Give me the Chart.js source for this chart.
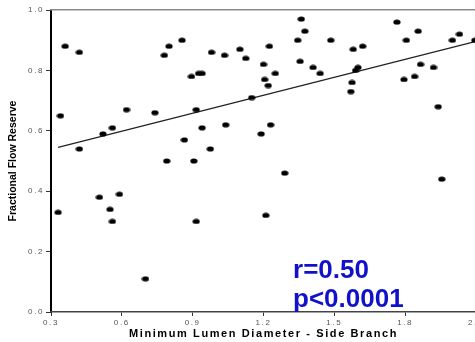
<!DOCTYPE html>
<html><head><meta charset="utf-8">
<script src="https://cdn.jsdelivr.net/npm/chart.js@4/dist/chart.umd.min.js"></script>
<style>
html,body{margin:0;padding:0;overflow:hidden;background:#fff;width:475px;height:342px}
#wrap{position:absolute;left:0;top:0;width:490px;height:342px}
</style>
</head><body><div id="wrap"><canvas id="c"></canvas></div>
<script>
// Minimum Lumen Diameter - Side Branch (x) vs Fractional Flow Reserve (y)
const xValues = [0.36,0.42,0.34,0.42,0.52,0.56,0.62,0.74,0.78,0.80,0.855,0.79,0.865,0.895,0.925,0.94,0.915,0.94,0.905,0.975,0.98,1.035,1.04,1.10,
  1.125,1.15,1.20,1.225,1.205,1.22,1.25,1.19,1.23,1.36,1.375,1.345,1.355,1.41,1.44,1.485,1.58,1.62,1.60,1.59,1.575,1.57,1.765,1.805,1.855,1.795,1.84,1.865,1.92,1.94,2.00,2.03,2.095,
  0.33,0.505,0.55,0.56,0.59,0.70,0.915,1.29,1.21,1.955];
const yValues = [0.88,0.86,0.65,0.54,0.59,0.61,0.67,0.66,0.85,0.88,0.90,0.50,0.57,0.78,0.79,0.79,0.67,0.61,0.50,0.54,0.86,0.85,0.62,0.87,
  0.84,0.71,0.82,0.88,0.77,0.75,0.79,0.59,0.62,0.97,0.93,0.90,0.83,0.81,0.79,0.90,0.87,0.88,0.81,0.80,0.76,0.73,0.96,0.90,0.93,0.77,0.78,0.82,0.81,0.68,0.90,0.92,0.90,
  0.33,0.38,0.34,0.30,0.39,0.11,0.30,0.46,0.32,0.44];
const fitX = [0.33, 2.1];
const fitY = [0.545, 0.896];
const xTicks = [0.3,0.6,0.9,1.2,1.5,1.8,2.1];
const yTicks = [0.0,0.2,0.4,0.6,0.8,1.0];
const xTitle = 'Minimum Lumen Diameter - Side Branch';
const yTitle = 'Fractional Flow Reserve';
const statLines = ['r=0.50','p<0.0001'];
const statAnchorX = 1.325;
const statAnchorY = [0.112, 0.016];

const dot = document.createElement('canvas');
dot.width = 8; dot.height = 6;
(function(){const g = dot.getContext('2d'); g.fillStyle = '#000'; g.beginPath(); g.ellipse(4,3,3.6,2.6,0,0,Math.PI*2); g.fill();})();

const spacingPlugin = {
  id: 'spacing',
  beforeDraw(chart){ chart.ctx.letterSpacing = '0px'; },
  afterDatasetsDraw(chart){ chart.ctx.letterSpacing = '1.6px'; },
  afterDraw(chart){
    const ctx = chart.ctx, xs = chart.scales.x, ys = chart.scales.y;
    ctx.save();
    ctx.letterSpacing = '0px';
    ctx.font = 'bold 26px "Liberation Sans", Arial, sans-serif';
    ctx.fillStyle = '#1111cc';
    ctx.textAlign = 'left';
    ctx.textBaseline = 'alphabetic';
    statLines.forEach((t,i) => ctx.fillText(t, xs.getPixelForValue(statAnchorX), ys.getPixelForValue(statAnchorY[i])));
    ctx.restore();
    ctx.letterSpacing = '0px';
  }
};

const tickFont = {family: '"Liberation Sans", Arial, sans-serif', size: 8};

new Chart(document.getElementById('c'), {
  type: 'scatter',
  data: {
    datasets: [
      {
        type: 'scatter',
        data: xValues.map((x,i) => ({x, y: yValues[i]})),
        pointStyle: dot,
        pointRadius: 4,
        pointHoverRadius: 4,
        backgroundColor: '#000',
        borderColor: '#000',
        clip: false
      },
      {
        type: 'line',
        data: fitX.map((x,i) => ({x, y: fitY[i]})),
        borderColor: '#222',
        borderWidth: 1.2,
        pointRadius: 0,
        fill: false,
        clip: false
      }
    ]
  },
  plugins: [spacingPlugin],
  options: {
    responsive: true,
    maintainAspectRatio: false,
    animation: false,
    events: [],
    layout: {padding: {top: 10, right: 14, bottom: 0, left: 0}},
    plugins: {legend: {display: false}, tooltip: {enabled: false}},
    scales: {
      y: {
        type: 'linear', position: 'left', min: 0, max: 1,
        afterBuildTicks: s => { s.ticks = yTicks.map(v => ({value: v})); },
        afterFit: s => { s.width = 51; },
        grid: {display: true, drawOnChartArea: false, drawTicks: true, tickLength: 5, color: '#333', lineWidth: 1, z: 0},
        border: {display: true, color: '#000', width: 2, z: 0},
        ticks: {font: tickFont, color: '#555', padding: 2, z: 1, callback: v => v.toFixed(1)},
        title: {display: true, text: yTitle, color: '#000', font: {family: '"Liberation Sans", Arial, sans-serif', size: 10.5, weight: 'bold'}, padding: {top: 7, bottom: 0}}
      },
      xTop: {
        type: 'linear', position: 'top', min: 0.3, max: 2.1,
        grid: {display: false, drawTicks: false},
        border: {display: true, color: '#8a8a8a', width: 1.5},
        ticks: {display: false}
      },
      x: {
        type: 'linear', position: 'bottom', min: 0.3, max: 2.1,
        afterBuildTicks: s => { s.ticks = xTicks.map(v => ({value: v})); },
        afterFit: s => { s.height = 30; },
        grid: {display: true, drawOnChartArea: false, drawTicks: true, tickLength: 4, color: '#333', lineWidth: 1, z: 1},
        border: {display: true, color: '#444', width: 1.5, z: 1},
        ticks: {font: tickFont, color: '#555', padding: 2, maxRotation: 0, autoSkip: false, z: 1, callback: v => Number(v).toFixed(1)},
        title: {display: true, text: xTitle, color: '#000', font: {family: '"Liberation Sans", Arial, sans-serif', size: 11, weight: 'bold'}, padding: {top: 0, bottom: 1}}
      }
    }
  }
});
</script>
</body></html>
